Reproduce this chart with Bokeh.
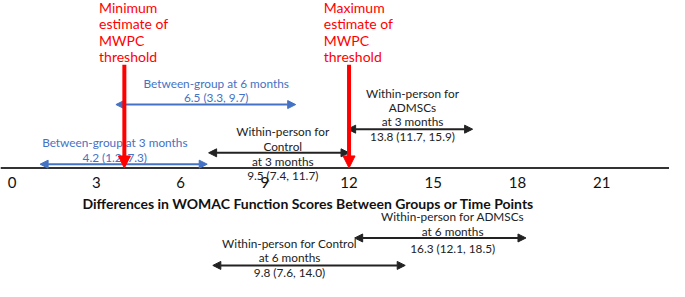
from bokeh.plotting import figure
from bokeh.models import ColumnDataSource, Range1d, LinearAxis, FixedTicker, Arrow, NormalHead, Span
from bokeh.core.properties import value
from bokeh.embed import file_html
from bokeh.resources import INLINE

# ---------------- data ----------------
tick_values = [0, 3, 6, 9, 12, 15, 18, 21]
axis_title = "Differences in WOMAC Function  Scores Between Groups or Time Points"

threshold_names = ["Minimum", "Maximum"]
threshold_values = [4, 12]
threshold_text = ["estimate of", "MWPC", "threshold"]

comparison_lines = [
    ["Between-group at 6 months"],
    ["Between-group at 3 months"],
    ["Within-person for", "Control", "at 3 months"],
    ["Within-person for", "ADMSCs", "at 3 months"],
    ["Within-person for ADMSCs", "at 6 months"],
    ["Within-person for Control", "at 6 months"],
]
comparison_kind = ["between", "between", "within", "within", "within", "within"]
estimate = [6.5, 4.2, 9.5, 13.8, 16.3, 9.8]
ci_low = [3.3, 1.2, 7.4, 11.7, 12.1, 7.6]
ci_high = [9.7, 7.3, 11.7, 15.9, 18.5, 14.0]
arrow_from = [3.7, 1.0, 7.0, 11.95, 12.2, 7.15]
arrow_to = [10.1, 6.95, 12.0, 16.4, 18.3, 14.0]

# ---------------- layout (rows in reference pixels) ----------------
AXIS_ROW = 177
label_center = [7.27, 3.66, 9.64, 14.26, 15.69, 9.88]
line_rows = [[88], [150], [138, 154, 170], [98, 113, 128], [228, 244], [257, 272]]
estimate_row = [103, 166, 185, 144, 262, 288]
arrow_row = [110, 173, 161, 136, 251, 280]
red_rows = [7, 24.5, 42, 59.5]
red_top = 68
red_text_offset = -0.9

BLUE = "#4472C4"
BLACK = "#222222"
RED = "#FF0000"
FONT = "Lato"
SMALL = "11.8px"

p = figure(width=669, height=281, output_backend="svg", toolbar_location=None,
           x_range=Range1d(-0.41, 23.41), y_range=Range1d(297, 0),
           x_axis_type=None, y_axis_type=None, min_border=0,
           outline_line_color=None, background_fill_color="white",
           border_fill_color="white")
p.xgrid.visible = False
p.ygrid.visible = False

# axis line across the whole chart
p.add_layout(Span(location=AXIS_ROW, dimension="width", line_color="#333333", line_width=2))

xaxis = LinearAxis(fixed_location=AXIS_ROW, ticker=FixedTicker(ticks=tick_values),
                   bounds=(0, 21.2), axis_label=axis_title,
                   axis_line_color=None, major_tick_line_color=None,
                   minor_tick_line_color=None, major_tick_out=0, major_tick_in=0,
                   minor_tick_out=0, minor_tick_in=0,
                   major_label_text_font=FONT, major_label_text_font_size="15px",
                   major_label_text_color="#111111", major_label_standoff=9,
                   axis_label_text_font=FONT, axis_label_text_font_size="14px",
                   axis_label_text_font_style="bold", axis_label_text_color="#111111",
                   axis_label_standoff=4)
p.add_layout(xaxis, "below")

# comparison arrows
for kind, color in (("between", BLUE), ("within", BLACK)):
    idx = [i for i, k in enumerate(comparison_kind) if k == kind]
    src = ColumnDataSource(dict(
        x0=[arrow_from[i] for i in idx], x1=[arrow_to[i] for i in idx],
        y=[arrow_row[i] for i in idx]))
    p.add_layout(Arrow(x_start="x0", y_start="y", x_end="x1", y_end="y", source=src,
                       line_color=color, line_width=2,
                       start=NormalHead(size=8, fill_color=color, line_color=color, line_width=1),
                       end=NormalHead(size=8, fill_color=color, line_color=color, line_width=1)))

    tx, ty, tt = [], [], []
    for i in idx:
        for row, txt in zip(line_rows[i], comparison_lines[i]):
            tx.append(label_center[i]); ty.append(row); tt.append(txt)
        tx.append(label_center[i]); ty.append(estimate_row[i])
        tt.append(f"{estimate[i]:.1f} ({ci_low[i]:.1f}, {ci_high[i]:.1f})")
    p.text(x=tx, y=ty, text=tt, text_font=value(FONT), text_font_size=value(SMALL),
           text_color=color, text_align="center", text_baseline="middle")

# MWPC threshold arrows
red_src = ColumnDataSource(dict(x=threshold_values, y0=[red_top] * len(threshold_values),
                                y1=[AXIS_ROW] * len(threshold_values)))
p.add_layout(Arrow(x_start="x", y_start="y0", x_end="x", y_end="y1", source=red_src,
                   line_color=RED, line_width=4, start=None,
                   end=NormalHead(size=12, fill_color=RED, line_color=RED, line_width=1)))

rx, ry, rt = [], [], []
for name, v in zip(threshold_names, threshold_values):
    for row, txt in zip(red_rows, [name] + threshold_text):
        rx.append(v + red_text_offset); ry.append(row); rt.append(txt)
p.text(x=rx, y=ry, text=rt, text_font=value(FONT), text_font_size=value("14px"),
       text_color=RED, text_align="left", text_baseline="middle")

open("out.html", "w").write(file_html(p, INLINE))
